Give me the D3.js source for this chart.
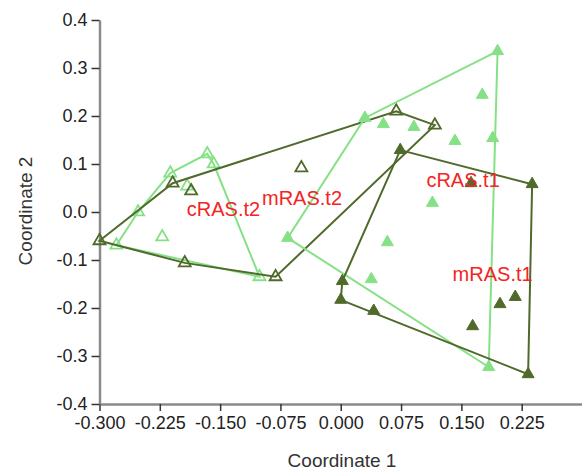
<!DOCTYPE html>
<html>
<head>
<meta charset="utf-8">
<script src="https://cdn.jsdelivr.net/npm/d3@7"></script>
<style>
  body { margin: 0; background: #fff; }
  text { font-family: "Liberation Sans", Arial, Helvetica, sans-serif; }
</style>
</head>
<body>
<svg></svg>
<script>
/* data: PCoA-style coordinates per group */
let groupNames = ["cRAS.t2", "mRAS.t2", "cRAS.t1", "mRAS.t1"];

let cRASt2X = [-0.279, -0.252, -0.222, -0.212, -0.191, -0.166, -0.158, -0.101];
let cRASt2Y = [-0.069, 0.000, -0.052, 0.081, 0.054, 0.121, 0.100, -0.135];

let mRASt2X = [-0.300, -0.209, -0.186, -0.194, -0.081, -0.049, 0.069, 0.117];
let mRASt2Y = [-0.060, 0.060, 0.044, -0.106, -0.135, 0.092, 0.210, 0.181];

let cRASt1X = [-0.066, 0.030, 0.053, 0.091, 0.195, 0.176, 0.142, 0.189, 0.114, 0.058, 0.038, 0.184];
let cRASt1Y = [-0.054, 0.196, 0.183, 0.177, 0.335, 0.244, 0.148, 0.154, 0.019, -0.063, -0.140, -0.323];

let mRASt1X = [0.074, 0.238, 0.162, 0.233, 0.041, 0.000, 0.002, 0.164, 0.198, 0.217];
let mRASt1Y = [0.129, 0.058, 0.060, -0.338, -0.206, -0.183, -0.144, -0.238, -0.192, -0.177];

let xTicks = [-0.300, -0.225, -0.150, -0.075, 0.000, 0.075, 0.150, 0.225];
let yTicks = [-0.4, -0.3, -0.2, -0.1, 0.0, 0.1, 0.2, 0.3, 0.4];

/* basic setup */
let svgWidth = 582;
let svgHeight = 470;
const svg = d3.select("svg")
    .attr("width", svgWidth)
    .attr("height", svgHeight);

const x = d3.scaleLinear().domain([-0.3, 0.3]).range([99.5, 582]);
const y = d3.scaleLinear().domain([-0.4, 0.4]).range([404, 20]);

let lightGreen = "#86e186";
let darkGreen = "#4f6a2b";

// style per group: colour + open/filled marker
let groups = [
    { name: groupNames[0], xs: cRASt2X, ys: cRASt2Y, color: lightGreen, open: true },
    { name: groupNames[1], xs: mRASt2X, ys: mRASt2Y, color: darkGreen, open: true },
    { name: groupNames[2], xs: cRASt1X, ys: cRASt1Y, color: lightGreen, open: false },
    { name: groupNames[3], xs: mRASt1X, ys: mRASt1Y, color: darkGreen, open: false }
];

/* axes */
let xAxis = svg.append("g")
    .attr("transform", "translate(0," + y(-0.4) + ")")
    .call(d3.axisBottom(x).tickValues(xTicks).tickFormat(d3.format(".3f")).tickSize(7).tickPadding(5).tickSizeOuter(0));

let yAxis = svg.append("g")
    .attr("transform", "translate(" + x(-0.3) + ",0)")
    .call(d3.axisLeft(y).tickValues(yTicks).tickFormat(d3.format(".1f")).tickSize(8).tickPadding(4).tickSizeOuter(0));

[xAxis, yAxis].forEach(function (ax) {
    ax.select(".domain").attr("stroke", "#8a8a8a").attr("stroke-width", 2.5);
    ax.selectAll(".tick line").attr("stroke", "#333").attr("stroke-width", 1.5);
    ax.selectAll(".tick text")
        .attr("fill", "#222")
        .style("font-size", "18px")
        .style("font-family", "'Liberation Sans', Arial, sans-serif");
});
// format minus sign as plain hyphen
xAxis.selectAll(".tick text").text(function (d) { return d3.format(".3f")(d).replace("−", "-"); });
yAxis.selectAll(".tick text").text(function (d) { return d3.format(".1f")(d).replace("−", "-"); });

/* hulls + points */
let hullLine = d3.line().curve(d3.curveLinearClosed);
let tri = d3.symbol().type(d3.symbolTriangle).size(62);

groups.forEach(function (g) {
    let pts = g.xs.map(function (v, i) { return [x(v), y(g.ys[i])]; });
    let hull = d3.polygonHull(pts);

    svg.append("path")
        .attr("d", hullLine(hull))
        .attr("fill", "none")
        .attr("stroke", g.color)
        .attr("stroke-width", 2);

    svg.append("g").selectAll("path")
        .data(pts)
        .enter()
        .append("path")
        .attr("d", tri)
        .attr("transform", function (d) { return "translate(" + d[0] + "," + d[1] + ")"; })
        .attr("fill", g.open ? "none" : g.color)
        .attr("stroke", g.color)
        .attr("stroke-width", g.open ? 1.8 : 1);
});

/* group labels at centroid */
groups.forEach(function (g) {
    svg.append("text")
        .attr("x", x(d3.mean(g.xs)) + 5)
        .attr("y", y(d3.mean(g.ys)) + 10)
        .attr("fill", "#f42424")
        .style("font-size", "20px")
        .text(g.name);
});

/* axis titles */
svg.append("text")
    .attr("x", 342)
    .attr("y", 467)
    .attr("text-anchor", "middle")
    .attr("fill", "#333")
    .style("font-size", "19px")
    .text("Coordinate 1");

svg.append("text")
    .attr("transform", "translate(32,211) rotate(-90)")
    .attr("text-anchor", "middle")
    .attr("fill", "#333")
    .style("font-size", "19px")
    .text("Coordinate 2");
</script>
</body>
</html>
